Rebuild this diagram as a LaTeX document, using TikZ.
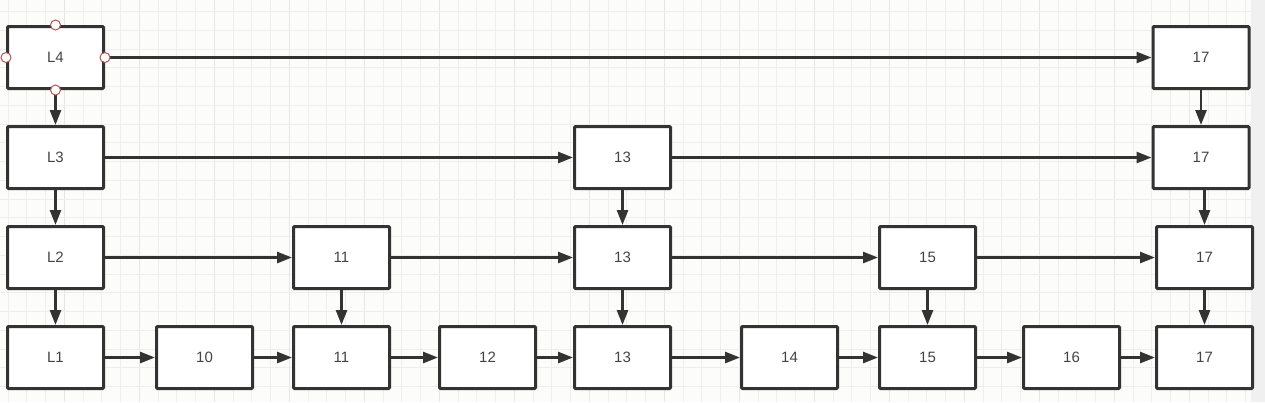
\documentclass[tikz,border=0pt]{standalone}
\usepackage{fontspec}
\setmainfont{Liberation Sans}
\usetikzlibrary{arrows.meta}
\definecolor{bg}{HTML}{FCFCFA}
\definecolor{gridc}{HTML}{EEEEEC}
\definecolor{gridm}{HTML}{E6E6E4}
\definecolor{boxc}{HTML}{333333}
\definecolor{txtc}{HTML}{444444}
\definecolor{handle}{HTML}{B85450}
\tikzset{
  x=1pt, y=-1pt,
  cell/.style={draw=boxc, line width=3pt, fill=white, rounded corners=1pt,
    minimum width=96pt, minimum height=62pt, inner sep=0pt,
    font=\fontsize{15}{17}\selectfont, text=txtc},
  link/.style={draw=boxc, line width=2.6pt, -{Triangle[length=15pt,width=11pt]}},
  handlept/.style={circle, draw=handle, fill=white, line width=1pt, minimum size=10pt, inner sep=0pt}
}
\begin{document}
\begin{tikzpicture}
\useasboundingbox (0,0) rectangle (1265,402);
\fill[bg] (0,0) rectangle (1265,402);
% grid
\foreach \i in {0,...,66} {
  \pgfmathsetmacro{\gx}{8.05+\i*18.75}
  \pgfmathtruncatemacro{\m}{mod(\i,4)}
  \ifnum\m=3 \draw[gridm, line width=1pt] (\gx,0) -- (\gx,402); \else \draw[gridc, line width=1pt] (\gx,0) -- (\gx,402); \fi
}
\foreach \i in {0,...,21} {
  \pgfmathsetmacro{\gy}{11.7+\i*18.75}
  \draw[gridc, line width=1pt] (0,\gy) -- (1251,\gy);
}
\fill[black!6] (1251,0) rectangle (1265,402);
% row 4
\node[cell] (l4) at (55.5,57.5) {L4};
\node[cell] (r4c17) at (1201,57.5) {17};
% row 3
\node[cell] (l3) at (55.5,157.5) {L3};
\node[cell] (r3c13) at (622.5,157.5) {13};
\node[cell] (r3c17) at (1201,157.5) {17};
% row 2
\node[cell] (l2) at (55.5,257.5) {L2};
\node[cell] (r2c11) at (341.5,257.5) {11};
\node[cell] (r2c13) at (622.5,257.5) {13};
\node[cell] (r2c15) at (927.5,257.5) {15};
\node[cell] (r2c17) at (1204.5,257.5) {17};
% row 1
\node[cell] (l1) at (55.5,357.5) {L1};
\node[cell] (r1c10) at (204.5,357.5) {10};
\node[cell] (r1c11) at (341.5,357.5) {11};
\node[cell] (r1c12) at (487.5,357.5) {12};
\node[cell] (r1c13) at (622.5,357.5) {13};
\node[cell] (r1c14) at (789.5,357.5) {14};
\node[cell] (r1c15) at (927.5,357.5) {15};
\node[cell] (r1c16) at (1071.5,357.5) {16};
\node[cell] (r1c17) at (1204.5,357.5) {17};
% horizontal links
\draw[link] (l4) -- (r4c17);
\draw[link] (l3) -- (r3c13);
\draw[link] (r3c13) -- (r3c17);
\draw[link] (l2) -- (r2c11);
\draw[link] (r2c11) -- (r2c13);
\draw[link] (r2c13) -- (r2c15);
\draw[link] (r2c15) -- (r2c17);
\draw[link] (l1) -- (r1c10);
\draw[link] (r1c10) -- (r1c11);
\draw[link] (r1c11) -- (r1c12);
\draw[link] (r1c12) -- (r1c13);
\draw[link] (r1c13) -- (r1c14);
\draw[link] (r1c14) -- (r1c15);
\draw[link] (r1c15) -- (r1c16);
\draw[link] (r1c16) -- (r1c17);
% vertical links
\draw[link] (l4) -- (l3);
\draw[link] (l3) -- (l2);
\draw[link] (l2) -- (l1);
\draw[link] (r4c17) -- (r3c17);
\draw[link] (r3c17.south -| r2c17) -- (r2c17.north);
\draw[link] (r2c17) -- (r1c17);
\draw[link] (r3c13) -- (r2c13);
\draw[link] (r2c13) -- (r1c13);
\draw[link] (r2c11) -- (r1c11);
\draw[link] (r2c15) -- (r1c15);
% selection handles
\node[handlept] (h1) at (l4.north) {};
\node[handlept] (h2) at (l4.west) {};
\node[handlept] (h3) at (l4.east) {};
\node[handlept] (h4) at (l4.south) {};
\end{tikzpicture}
\end{document}
